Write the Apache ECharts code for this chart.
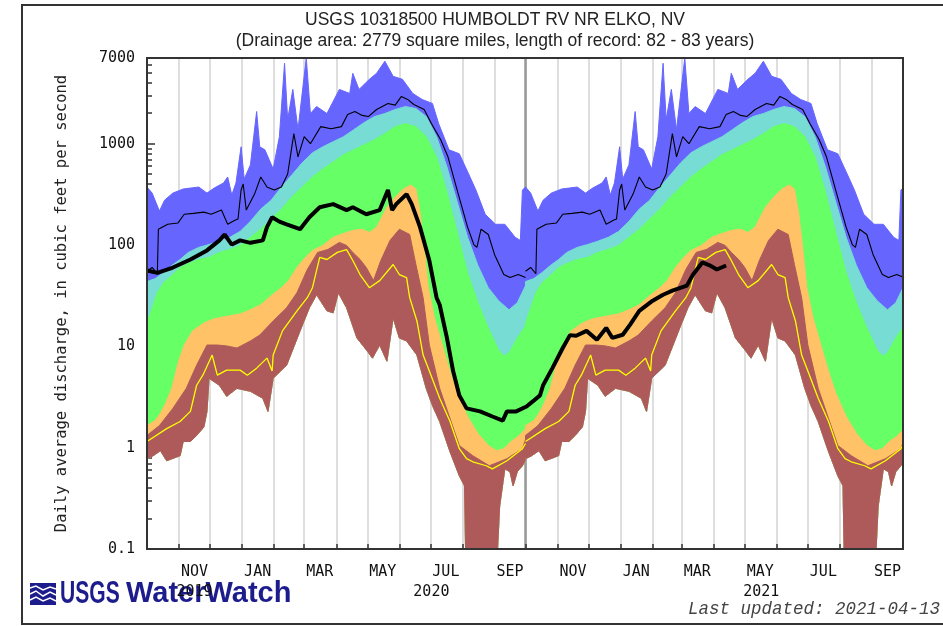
<!DOCTYPE html>
<html>
<head>
<meta charset="utf-8">
<title>USGS 10318500 HUMBOLDT RV NR ELKO, NV</title>
<script src="https://cdn.jsdelivr.net/npm/echarts@6.0.0/dist/echarts.min.js"></script>
<style>
  html, body { margin: 0; padding: 0; background: #fff; }
  #main { width: 943px; height: 626px; }
</style>
</head>
<body>
<div id="main"></div>
<script>
// daily flow statistics by day of water year (0 = Oct 1), cfs
const maxFlow = [[0,373],[5,325],[12,216],[17,277],[25,325],[35,357],[50,373],[58,325],[65,365],[74,409],[78,469],[82,311],[86,409],[91,931],[94,448],[100,617],[106,2075],[109,931],[114,869],[122,563],[128,1170],[133,6210],[136,1727],[141,3430],[146,1374],[154,7000],[158,1982],[164,2324],[174,1982],[186,3430],[196,3130],[199,4945],[205,3430],[215,4310],[222,4945],[230,6505],[238,4617],[247,4310],[257,3130],[266,2730],[276,2490],[282,1577],[292,869],[302,794],[311,502],[318,349],[327,201],[337,160],[346,160],[356,119],[361,111],[363,349],[366,373]];
const p90Flow = [[0,43.5],[8,46.6],[16,53.4],[24,62.7],[32,71.9],[40,84.5],[50,94.7],[60,101],[70,109],[80,119],[90,136],[100,171],[110,226],[120,276],[130,373],[140,490],[150,646],[160,812],[170,931],[180,1045],[190,1171],[200,1375],[210,1614],[220,1850],[230,1982],[240,2173],[250,2324],[260,2222],[270,1850],[280,1171],[290,590],[300,265],[310,119],[320,62.7],[330,37.9],[340,28.2],[350,22.9],[358,26.9],[366,39.7]];
const p75Flow = [[0,17],[5,24],[10,33.8],[16,42.5],[24,49.9],[32,59.9],[40,65.7],[50,71.9],[60,75.3],[70,84.5],[80,90.4],[90,99.1],[100,119],[110,143],[120,180],[130,226],[140,297],[150,373],[160,469],[170,563],[180,661],[190,776],[200,869],[210,975],[220,1094],[230,1254],[240,1472],[250,1577],[260,1472],[270,1171],[280,741],[290,333],[300,133],[310,53.4],[320,26.9],[330,15.2],[340,9.19],[345,8.01],[350,8.58],[358,12.1],[366,15.9]];
const p25Flow = [[0,1.65],[8,1.85],[13,2.18],[18,2.74],[24,3.86],[30,6.83],[36,10.3],[44,14.2],[55,17],[65,18.7],[80,20],[90,20.9],[100,22.9],[110,25.7],[120,31.6],[130,37.9],[137,44.5],[145,59.9],[153,75.3],[160,88.4],[170,99.1],[180,119],[190,130],[200,140],[208,143],[215,133],[222,150],[232,236],[240,297],[248,357],[255,391],[260,357],[264,211],[268,94.7],[272,37.9],[278,19.1],[285,10.8],[292,6.09],[300,3.44],[310,2.03],[320,1.38],[330,1.05],[338,0.934],[345,0.977],[352,1.15],[360,1.32],[366,1.54]];
const p10Flow = [[0,1.32],[12,1.65],[25,2.44],[38,3.85],[48,6.52],[58,10.3],[68,10.3],[77,10.1],[87,9.62],[100,11.3],[109,12.9],[122,17.8],[135,24],[145,33.8],[155,57.3],[165,84.5],[175,90.4],[186,106],[193,99],[199,84.5],[206,72],[212,60],[219,44.5],[226,70],[235,111],[244,143],[254,127],[260,64.2],[267,30.2],[273,10.3],[283,3.85],[293,1.94],[302,1.05],[315,0.833],[331,0.663],[348,0.778],[363,0.977],[366,1.2]];
const minFlow = [[0,0.778],[6,0.833],[13,0.934],[19,0.743],[32,0.833],[35,1.15],[42,1.15],[48,1.32],[55,1.6],[58,2.28],[60,4.84],[70,4.13],[77,3.21],[87,3.85],[100,3.6],[112,3.07],[117,2.28],[122,4.84],[135,6.52],[148,14.2],[157,24],[164,32.3],[174,22.4],[180,21.4],[185,33.8],[193,24],[203,12.1],[213,8.98],[218,7.65],[225,10.3],[232,7.14],[238,19.1],[244,12.1],[251,11.3],[261,8.2],[270,3.85],[276,2.61],[283,1.81],[293,0.912],[302,0.527],[307,0.42],[308,0.1],[339,0.1],[341,0.265],[346,0.618],[351,0.578],[354,0.42],[358,0.578],[363,0.663],[366,0.75]];
// thin black and yellow daily traces, same for each water year
const highTrace = [[0,55],[5,60],[10,52],[11,143],[20,160],[30,165],[36,201],[45,205],[55,211],[62,201],[72,221],[78,160],[85,175],[88,180],[91,349],[93,400],[96,221],[104,318],[110,469],[116,373],[123,349],[130,373],[136,502],[139,794],[142,1254],[146,741],[152,1171],[158,998],[168,1472],[178,1400],[188,1472],[194,1937],[201,2075],[208,1900],[214,1850],[222,2173],[233,2490],[240,2400],[246,2924],[252,2730],[258,2433],[268,2173],[275,1577],[284,1094],[291,741],[301,318],[310,150],[316,101],[319,94.7],[323,143],[330,127],[336,80.7],[345,51.1],[351,47.7],[359,51.1],[366,47.7]];
const lowTrace = [[0,1.15],[19,1.54],[32,1.81],[42,2.28],[48,4.13],[54,5.19],[63,8.2],[68,5.19],[77,5.82],[90,5.82],[97,5.19],[106,6.09],[116,7.65],[121,5.7],[122,8.2],[131,14.2],[145,22.4],[155,30.2],[160,37.9],[167,75.3],[174,71.9],[184,84.5],[193,90],[199,70.2],[206,51.1],[215,37.9],[225,44.5],[238,64.2],[244,51.1],[251,47.7],[254,30.2],[261,17.8],[267,8.2],[273,5.7],[283,3.07],[293,1.81],[302,0.977],[309,0.778],[315,0.726],[328,0.663],[334,0.618],[348,0.743],[363,0.977],[366,1.1]];
// current daily discharge, days since 2019-10-01
const currentFlow = [[0,56],[10,53],[25,59.9],[42,71.9],[58,88.4],[70,111],[75,127],[82,101],[90,111],[100,105],[112,111],[116,150],[121,188],[128,170],[135,160],[148,143],[157,188],[167,236],[180,253],[193,221],[199,236],[212,201],[225,221],[233,349],[237,221],[241,253],[251,318],[256,253],[264,150],[273,70.2],[280,30.2],[283,25.7],[290,12.1],[296,5.7],[302,3.28],[309,2.44],[322,2.28],[334,2.03],[344,1.85],[348,2.28],[357,2.28],[367,2.55],[373,2.86],[380,3.28],[383,4.13],[392,6.09],[402,9.62],[409,12.9],[415,12.7],[425,14.2],[435,11.6],[444,15.2],[450,12.1],[460,13],[467,16.3],[476,22.4],[489,28.2],[499,32.3],[508,35.4],[522,39.7],[528,51.1],[537,67.3],[544,63],[551,57.3],[560,62.7]];

const waterYearOffsets = [0, 366];
const monthStarts = [31,61,92,123,152,183,213,244,274,305,336,366,397,427,458,489,517,548,578,609,639,670,701];
const waterYearSplit = [366];
const monthLabelDays = [46,107,167,228,289,351,412,473,532,593,654,716];
const monthLabels = ['NOV','JAN','MAR','MAY','JUL','SEP','NOV','JAN','MAR','MAY','JUL','SEP'];
const yearLabelDays = [46,275,594];
const yearLabels = ['2019','2020','2021'];
const yMajor = [0.1,1,10,100,1000,7000];
const yMinor = [0.2,0.3,0.4,0.5,0.6,0.7,0.8,0.9,2,3,4,5,6,7,8,9,20,30,40,50,60,70,80,90,200,300,400,500,600,700,800,900,2000,3000,4000,5000,6000];

const chart = echarts.init(document.getElementById('main'));
const mono = 'DejaVu Sans Mono';

const bands = [
  { upper: maxFlow, color: '#6666ff' },
  { upper: p90Flow, color: '#77dcd4' },
  { upper: p75Flow, color: '#66ff66' },
  { upper: p25Flow, color: '#ffc266' },
  { upper: p10Flow, color: '#ae5a5a' }
];

// each band filled from its upper curve down to the minimum curve
function bandSeries(upper, color, offset) {
  return {
    type: 'custom',
    silent: true,
    clip: true,
    data: [[offset, 1]],
    encode: { x: 0, y: 1 },
    renderItem: function (params, api) {
      const pts = [];
      upper.forEach(function (p) { pts.push(api.coord([p[0] + offset, p[1]])); });
      for (let i = minFlow.length - 1; i >= 0; i--) {
        pts.push(api.coord([minFlow[i][0] + offset, minFlow[i][1]]));
      }
      return { type: 'polygon', shape: { points: pts }, style: { fill: color, stroke: color, lineWidth: 1 } };
    }
  };
}

function traceSeries(trace, color, width, offset) {
  return {
    type: 'line',
    silent: true,
    showSymbol: false,
    clip: true,
    data: trace.map(function (p) { return [p[0] + offset, p[1]]; }),
    lineStyle: { color: color, width: width }
  };
}

const series = [];
waterYearOffsets.forEach(function (off) {
  bands.forEach(function (b) { series.push(bandSeries(b.upper, b.color, off)); });
});
waterYearOffsets.forEach(function (off) {
  series.push(traceSeries(lowTrace, '#ffff00', 1.3, off));
  series.push(traceSeries(highTrace, '#000', 1.1, off));
});
series.push(traceSeries(currentFlow, '#000', 4, 0));

const tickLine = { color: '#333', width: 1.5 };

chart.setOption({
  animation: false,
  backgroundColor: '#fff',
  title: {
    text: 'USGS 10318500 HUMBOLDT RV NR ELKO, NV',
    subtext: '(Drainage area: 2779 square miles, length of record: 82 - 83 years)',
    left: 490,
    top: 6,
    textAlign: 'center',
    itemGap: 3,
    textStyle: { fontFamily: 'Liberation Sans', fontSize: 17.5, fontWeight: 'normal', color: '#222' },
    subtextStyle: { fontFamily: 'Liberation Sans', fontSize: 17.5, color: '#222' }
  },
  grid: { left: 147, right: 40, top: 58, bottom: 77, containLabel: false },
  xAxis: [
    {
      type: 'value', min: 0, max: 731, position: 'bottom',
      axisLine: { show: false },
      axisTick: { show: true, inside: true, length: 5, customValues: monthStarts, lineStyle: tickLine },
      axisLabel: {
        customValues: monthLabelDays,
        formatter: function (v) { return monthLabels[monthLabelDays.indexOf(Math.round(v))]; },
        margin: 16, fontFamily: mono, fontSize: 15, color: '#111'
      },
      splitLine: { show: true, lineStyle: { color: '#dedede', width: 2 } }
    },
    {
      type: 'value', min: 0, max: 731, position: 'bottom',
      axisLine: { show: false },
      axisTick: { show: false, customValues: waterYearSplit },
      axisLabel: { show: false },
      splitLine: { show: true, lineStyle: { color: '#999', width: 2.5 } }
    },
    {
      type: 'value', min: 0, max: 731, position: 'bottom', offset: 20, zlevel: 1,
      axisLine: { show: false },
      axisTick: { show: false, customValues: yearLabelDays },
      axisLabel: {
        customValues: yearLabelDays,
        formatter: function (v) { return yearLabels[yearLabelDays.indexOf(Math.round(v))]; },
        margin: 16, fontFamily: mono, fontSize: 15, color: '#111'
      },
      splitLine: { show: false }
    }
  ],
  yAxis: [
    {
      type: 'log', logBase: 10, min: 0.1, max: 7000, position: 'left',
      axisLine: { show: false },
      axisTick: { show: true, inside: true, length: 8, customValues: yMajor, lineStyle: tickLine },
      axisLabel: {
        customValues: yMajor,
        formatter: function (v) { return v < 1 ? v.toFixed(1) : String(Math.round(v)); },
        margin: 12, fontFamily: mono, fontSize: 15, color: '#111'
      },
      splitLine: { show: false },
      name: 'Daily average discharge, in cubic feet per second',
      nameLocation: 'middle',
      nameGap: 77,
      nameRotate: 90,
      nameTextStyle: { fontFamily: mono, fontSize: 15.5, color: '#222' }
    },
    {
      type: 'log', logBase: 10, min: 0.1, max: 7000, position: 'left',
      axisLine: { show: false },
      axisTick: { show: true, inside: true, length: 5, customValues: yMinor, lineStyle: tickLine },
      axisLabel: { show: false },
      splitLine: { show: false }
    }
  ],
  series: series,
  graphic: [
    { type: 'rect', silent: true, z: -10, shape: { x: 22, y: 5, width: 960, height: 619 },
      style: { fill: 'none', stroke: '#333', lineWidth: 2 } },
    { type: 'rect', silent: true, z: 100, shape: { x: 147, y: 58, width: 756, height: 491 },
      style: { fill: 'none', stroke: '#333', lineWidth: 2 } },
    { type: 'rect', silent: true, z: -1, shape: { x: 30, y: 583, width: 26, height: 22 },
      style: { fill: '#1c1c8c' } },
    { type: 'polyline', silent: true, z: -1, shape: { points: [[30,588],[36,586],[43,590],[50,587],[56,589]] },
      style: { fill: 'none', stroke: '#fff', lineWidth: 1.5 } },
    { type: 'polyline', silent: true, z: -1, shape: { points: [[30,594],[36,591],[43,596],[50,592],[56,595]] },
      style: { fill: 'none', stroke: '#fff', lineWidth: 1.5 } },
    { type: 'polyline', silent: true, z: -1, shape: { points: [[30,600],[36,597],[43,601],[50,598],[56,601]] },
      style: { fill: 'none', stroke: '#fff', lineWidth: 1.5 } },
    { type: 'text', silent: true, z: -1, x: 60, y: 594, scaleX: 0.68,
      style: { text: 'USGS', fontFamily: 'Liberation Sans', fontWeight: 'bold', fontSize: 31, fill: '#1c1c8c', verticalAlign: 'middle' } },
    { type: 'text', silent: true, z: -1, x: 126, y: 594,
      style: { text: 'WaterWatch', fontFamily: 'Liberation Sans', fontWeight: 'bold', fontSize: 29, fill: '#1c1c8c', verticalAlign: 'middle' } },
    { type: 'text', silent: true, x: 940, y: 609,
      style: { text: 'Last updated: 2021-04-13', fontFamily: 'Liberation Mono', fontStyle: 'italic', fontSize: 17.5, fill: '#444', align: 'right', verticalAlign: 'middle' } }
  ]
});

window.addEventListener('resize', function () { chart.resize(); });
</script>
</body>
</html>
